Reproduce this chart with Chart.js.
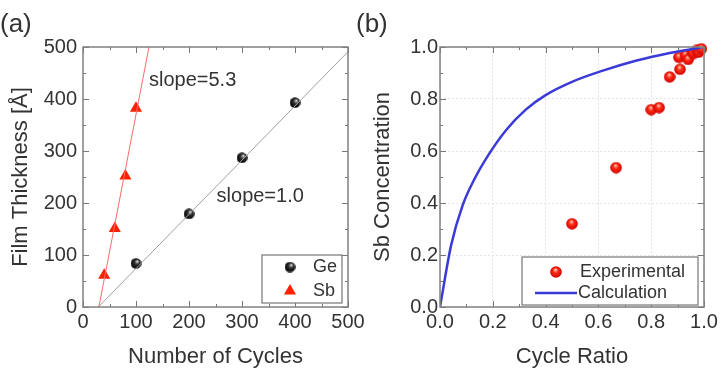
<!DOCTYPE html>
<html><head><meta charset="utf-8">
<script src="https://cdn.jsdelivr.net/npm/chart.js@4.4.1/dist/chart.umd.min.js"></script>
<style>
html,body{margin:0;padding:0;background:#fff;width:721px;height:372px;overflow:hidden;}
#ca{position:absolute;left:0;top:0;}
#cb{position:absolute;left:340px;top:0;}
</style></head><body>
<canvas id="ca" width="380" height="372"></canvas>
<canvas id="cb" width="381" height="372"></canvas>
<script>
// ---------- data: panel (a) ----------
const geCycles = [100, 200, 300, 400];
const geThickness = [84, 179, 287, 393];
const sbCycles = [40, 60, 80, 100];
const sbThickness = [61, 151, 252, 382];
const geFitCycles = [29, 500];
const geFitThickness = [0, 491];
const sbFitCycles = [30, 124.5];
const sbFitThickness = [0, 500];
// ---------- data: panel (b) ----------
const expRatio = [0.5, 0.667, 0.8, 0.83, 0.87, 0.909, 0.905, 0.93, 0.94, 0.96, 0.972, 0.98, 0.99];
const expConc  = [0.32, 0.536, 0.759, 0.767, 0.885, 0.914, 0.96, 0.968, 0.952, 0.975, 0.987, 0.98, 0.993];
const calcRatio = [0, 0.042, 0.086, 0.133, 0.174, 0.25, 0.326, 0.4, 0.5, 0.62, 0.745, 0.87, 1.0];
const calcConc  = [0, 0.237, 0.392, 0.497, 0.57, 0.68, 0.76, 0.815, 0.866, 0.91, 0.948, 0.977, 1.0];

const pts = (xs, ys) => xs.map((v, i) => ({x: v, y: ys[i]}));
const FONT = 'Liberation Sans, Arial, sans-serif';
const TXT = '#333';

function sphere(d, hx, hy, light, mid, dark) {
  const c = document.createElement('canvas'); c.width = c.height = d;
  const g = c.getContext('2d'); const r = d / 2;
  const grad = g.createRadialGradient(r * hx, r * hy, r * 0.05, r, r, r);
  grad.addColorStop(0, light); grad.addColorStop(0.4, mid); grad.addColorStop(1, dark);
  g.fillStyle = grad; g.beginPath(); g.arc(r, r, r - 0.2, 0, Math.PI * 2); g.fill();
  return c;
}
const geBall = sphere(11, 1.3, 0.6, '#e8e8e8', '#303030', '#000000');
const redBall = sphere(12, 0.9, 0.6, '#ffc8b8', '#ff2a12', '#cc0000');

const decor = {
  id: 'decor',
  afterDraw(chart, args, o) {
    const {ctx, chartArea: a, scales: {x, y}} = chart;
    ctx.save();
    ctx.strokeStyle = '#777'; ctx.lineWidth = 1;
    const line = (x1, y1, x2, y2) => { ctx.beginPath(); ctx.moveTo(x1, y1); ctx.lineTo(x2, y2); ctx.stroke(); };
    const nx = Math.round((x.max - x.min) / o.xMinor);
    for (let i = 0; i <= nx; i++) {
      const v = x.min + i * o.xMinor; const L = (i % 2 === 0) ? 6 : 3;
      const p = Math.round(x.getPixelForValue(v)) + 0.5;
      line(p, a.bottom, p, a.bottom - L); line(p, a.top, p, a.top + L);
    }
    const ny = Math.round((y.max - y.min) / o.yMinor);
    for (let i = 0; i <= ny; i++) {
      const v = y.min + i * o.yMinor; const L = (i % 2 === 0) ? 6 : 3;
      const p = Math.round(y.getPixelForValue(v)) + 0.5;
      line(a.left, p, a.left + L, p); line(a.right, p, a.right - L, p);
    }
    ctx.strokeStyle = '#808080'; ctx.lineWidth = 1.5;
    ctx.strokeRect(a.left, a.top, a.right - a.left, a.bottom - a.top);
    for (const t of o.texts) {
      ctx.font = t.size + 'px ' + FONT; ctx.fillStyle = TXT;
      ctx.textAlign = 'left'; ctx.textBaseline = 'middle';
      const px = t.data ? x.getPixelForValue(t.x) : t.x;
      const py = t.data ? y.getPixelForValue(t.y) : t.y;
      ctx.fillText(t.text, px, py);
    }
    const lg = o.legend;
    ctx.fillStyle = '#fff'; ctx.fillRect(lg.x0, lg.y0, lg.x1 - lg.x0, lg.y1 - lg.y0);
    ctx.strokeStyle = '#777'; ctx.lineWidth = 1.2;
    ctx.strokeRect(lg.x0, lg.y0, lg.x1 - lg.x0, lg.y1 - lg.y0);
    for (const it of lg.items) {
      if (it.kind === 'img') {
        ctx.drawImage(it.img, it.mx - it.img.width / 2, it.my - it.img.height / 2);
      } else if (it.kind === 'tri') {
        ctx.fillStyle = it.color;
        Chart.helpers.drawPoint(ctx, {pointStyle: 'triangle', radius: 7, rotation: 0, borderWidth: 0}, it.mx, it.my);
      } else if (it.kind === 'line') {
        ctx.strokeStyle = it.color; ctx.lineWidth = 2.5;
        line(it.mx - 21, it.my, it.mx + 21, it.my);
      }
      ctx.font = '18px ' + FONT; ctx.fillStyle = TXT; ctx.textAlign = 'left'; ctx.textBaseline = 'middle';
      ctx.fillText(it.text, it.tx, it.my);
    }
    ctx.restore();
  }
};

function fixScale(w, h) {
  return (s) => {
    s.paddingLeft = 0; s.paddingRight = 0; s.paddingTop = 0; s.paddingBottom = 0;
    if (w !== null) s.width = w;
    if (h !== null) s.height = h;
  };
}

// ---------- panel (a) ----------
new Chart(document.getElementById('ca'), {
  type: 'scatter',
  data: {
    datasets: [
      {label: 'Ge fit', data: pts(geFitCycles, geFitThickness), showLine: true, borderColor: '#a0a0a0', borderWidth: 1, pointRadius: 0},
      {label: 'Sb fit', data: pts(sbFitCycles, sbFitThickness), showLine: true, borderColor: '#ff6a6a', borderWidth: 1, pointRadius: 0},
      {label: 'Ge', data: pts(geCycles, geThickness), pointStyle: geBall, pointRadius: 6},
      {label: 'Sb', data: pts(sbCycles, sbThickness), pointStyle: 'triangle', pointRadius: 7, backgroundColor: '#ff2000', borderColor: '#ff2000', borderWidth: 0}
    ]
  },
  options: {
    responsive: false, devicePixelRatio: 1, animation: false,
    layout: {padding: {left: 0, top: 47, right: 32, bottom: 0}},
    plugins: {
      legend: {display: false}, tooltip: {enabled: false},
      decor: {
        xMinor: 50, yMinor: 50,
        texts: [
          {text: '(a)', x: 0, y: 25, size: 26},
          {text: 'slope=5.3', x: 124.5, y: 436, size: 20, data: true},
          {text: 'slope=1.0', x: 252, y: 213, size: 20, data: true}
        ],
        legend: {x0: 262, y0: 255, x1: 342, y1: 303, items: [
          {kind: 'img', img: geBall, mx: 290, my: 267, tx: 313, text: 'Ge'},
          {kind: 'tri', color: '#ff2000', mx: 290, my: 291, tx: 313, text: 'Sb'}
        ]}
      }
    },
    scales: {
      x: {type: 'linear', min: 0, max: 500,
        ticks: {stepSize: 100, padding: 3, color: TXT, font: {family: FONT, size: 20}},
        grid: {display: true, drawOnChartArea: false, drawTicks: false}, border: {display: false},
        title: {display: true, text: 'Number of Cycles', color: TXT, font: {family: FONT, size: 22}, padding: {top: 0, bottom: 2}},
        afterFit: fixScale(null, 65)},
      y: {type: 'linear', min: 0, max: 500,
        ticks: {stepSize: 100, padding: 6, color: TXT, font: {family: FONT, size: 20}},
        grid: {display: true, drawOnChartArea: false, drawTicks: false}, border: {display: false},
        title: {display: true, text: 'Film Thickness [Å]', color: TXT, font: {family: FONT, size: 22}, padding: {top: 8, bottom: 0}},
        afterFit: fixScale(83, null)}
    }
  },
  plugins: [decor]
});

// ---------- panel (b) ----------
new Chart(document.getElementById('cb'), {
  type: 'scatter',
  data: {
    datasets: [
      {label: 'Calculation', data: pts(calcRatio, calcConc), showLine: true, borderColor: '#3a3ad8', borderWidth: 2.5, pointRadius: 0, cubicInterpolationMode: 'monotone'},
      {label: 'Experimental', data: pts(expRatio, expConc), pointStyle: redBall, pointRadius: 6, clip: 8}
    ]
  },
  options: {
    responsive: false, devicePixelRatio: 1, animation: false,
    layout: {padding: {left: 0, top: 47, right: 17, bottom: 0}},
    plugins: {
      legend: {display: false}, tooltip: {enabled: false},
      decor: {
        xMinor: 0.1, yMinor: 0.1,
        texts: [
          {text: '(b)', x: 16, y: 25, size: 26}
        ],
        legend: {x0: 182, y0: 257, x1: 358, y1: 305, items: [
          {kind: 'img', img: redBall, mx: 216, my: 272, tx: 240, text: 'Experimental'},
          {kind: 'line', color: '#3a3ad8', mx: 216, my: 293, tx: 238, text: 'Calculation'}
        ]}
      }
    },
    scales: {
      x: {type: 'linear', min: 0, max: 1,
        ticks: {stepSize: 0.2, padding: 3, color: TXT, font: {family: FONT, size: 20}, callback: v => v.toFixed(1)},
        grid: {display: true, drawOnChartArea: true, drawTicks: false, color: '#e4e4e4', lineWidth: 1}, border: {display: false, dash: [2, 2]},
        title: {display: true, text: 'Cycle Ratio', color: TXT, font: {family: FONT, size: 22}, padding: {top: 0, bottom: 2}},
        afterFit: fixScale(null, 65)},
      y: {type: 'linear', min: 0, max: 1,
        ticks: {stepSize: 0.2, padding: 2, color: TXT, font: {family: FONT, size: 20}, callback: v => v.toFixed(1)},
        grid: {display: true, drawOnChartArea: true, drawTicks: false, color: '#e4e4e4', lineWidth: 1}, border: {display: false, dash: [2, 2]},
        title: {display: true, text: 'Sb Concentration', color: TXT, font: {family: FONT, size: 22}, padding: {top: 30, bottom: 0}},
        afterFit: fixScale(100, null)}
    }
  },
  plugins: [decor]
});
</script>
</body></html>
